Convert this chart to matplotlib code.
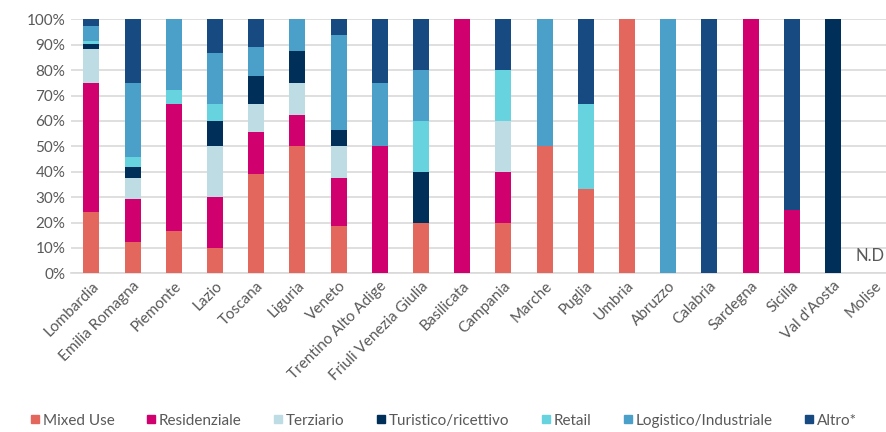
import numpy as np
from matplotlib import pyplot as plt
from matplotlib.lines import Line2D

plt.rcParams['font.family'] = ['Lato', 'DejaVu Sans']

regions = ["Lombardia", "Emilia Romagna", "Piemonte", "Lazio", "Toscana", "Liguria",
           "Veneto", "Trentino Alto Adige", "Friuli Venezia Giulia", "Basilicata",
           "Campania", "Marche", "Puglia", "Umbria", "Abruzzo", "Calabria",
           "Sardegna", "Sicilia", "Val d'Aosta", "Molise"]

# shares in %, one list per use type (Molise has no data)
mixed_use = [24, 12.5, 16.7, 10, 38.9, 50, 18.75, 0, 20, 0, 20, 50, 33.3, 100, 0, 0, 0, 0, 0, 0]
residenziale = [51, 16.7, 50, 20, 16.7, 12.5, 18.75, 50, 0, 100, 20, 0, 0, 0, 0, 0, 100, 25, 0, 0]
terziario = [13.3, 8.3, 0, 20, 11.1, 12.5, 12.5, 0, 0, 0, 20, 0, 0, 0, 0, 0, 0, 0, 0, 0]
turistico = [1.9, 4.2, 0, 10, 11.1, 12.5, 6.25, 0, 20, 0, 0, 0, 0, 0, 0, 0, 0, 0, 100, 0]
retail = [1.3, 4.2, 5.6, 6.7, 0, 0, 0, 0, 20, 0, 20, 0, 33.3, 0, 0, 0, 0, 0, 0, 0]
logistico = [5.9, 29.1, 27.7, 20, 11.1, 12.5, 37.5, 25, 20, 0, 0, 50, 0, 0, 100, 0, 0, 0, 0, 0]
altro = [2.6, 25, 0, 13.3, 11.1, 0, 6.25, 25, 20, 0, 20, 0, 33.4, 0, 0, 100, 0, 75, 0, 0]

series = [
    ("Mixed Use", mixed_use, "#E3675C"),
    ("Residenziale", residenziale, "#D1006F"),
    ("Terziario", terziario, "#BDDCE4"),
    ("Turistico/ricettivo", turistico, "#00305A"),
    ("Retail", retail, "#66D3DE"),
    ("Logistico/Industriale", logistico, "#4BA0CA"),
    ("Altro*", altro, "#164A80"),
]

text_grey = "#595959"
grid_grey = "#D9D9D9"

fig = plt.figure(figsize=(8.86, 4.32), dpi=100)
ax = fig.add_axes([70.8 / 886, (432 - 273.3) / 432, 824 / 886, 254 / 432])

x = np.arange(len(regions))
bottom = np.zeros(len(regions))
for name, values, colour in series:
    vals = np.array(values) / 100
    ax.bar(x, vals, width=0.39, bottom=bottom, color=colour, label=name, zorder=3)
    bottom += vals

ax.set_xlim(-0.5, len(regions) - 0.5)
ax.set_ylim(0, 1)
ax.set_yticks(np.arange(0, 1.01, 0.1))
ax.set_yticklabels([f"{int(round(v * 100))}%" for v in np.arange(0, 1.01, 0.1)])
ax.yaxis.grid(True, color=grid_grey, linewidth=1.2, zorder=0)
ax.set_axisbelow(True)
for side in ["top", "right", "left"]:
    ax.spines[side].set_visible(False)
ax.spines["bottom"].set_color(grid_grey)
ax.spines["bottom"].set_linewidth(1.2)
ax.tick_params(axis="both", length=0, labelsize=11, colors=text_grey, pad=4)
ax.set_xticks(x)
ax.set_xticklabels(regions, rotation=45, ha="right", rotation_mode="anchor")

ax.text(19 - 0.1, 0.07, "N.D", ha="center", va="center", fontsize=12, color=text_grey)

handles = [Line2D([], [], marker="s", linestyle="", markersize=6, color=c) for _, _, c in series]
fig.legend(handles, [s[0] for s in series], loc="lower center", bbox_to_anchor=(0.5, -0.022),
           ncol=7, frameon=False, fontsize=11, labelcolor=text_grey,
           handletextpad=0.1, columnspacing=2.0, handlelength=0.8)

fig.savefig("out.png", dpi=100)
